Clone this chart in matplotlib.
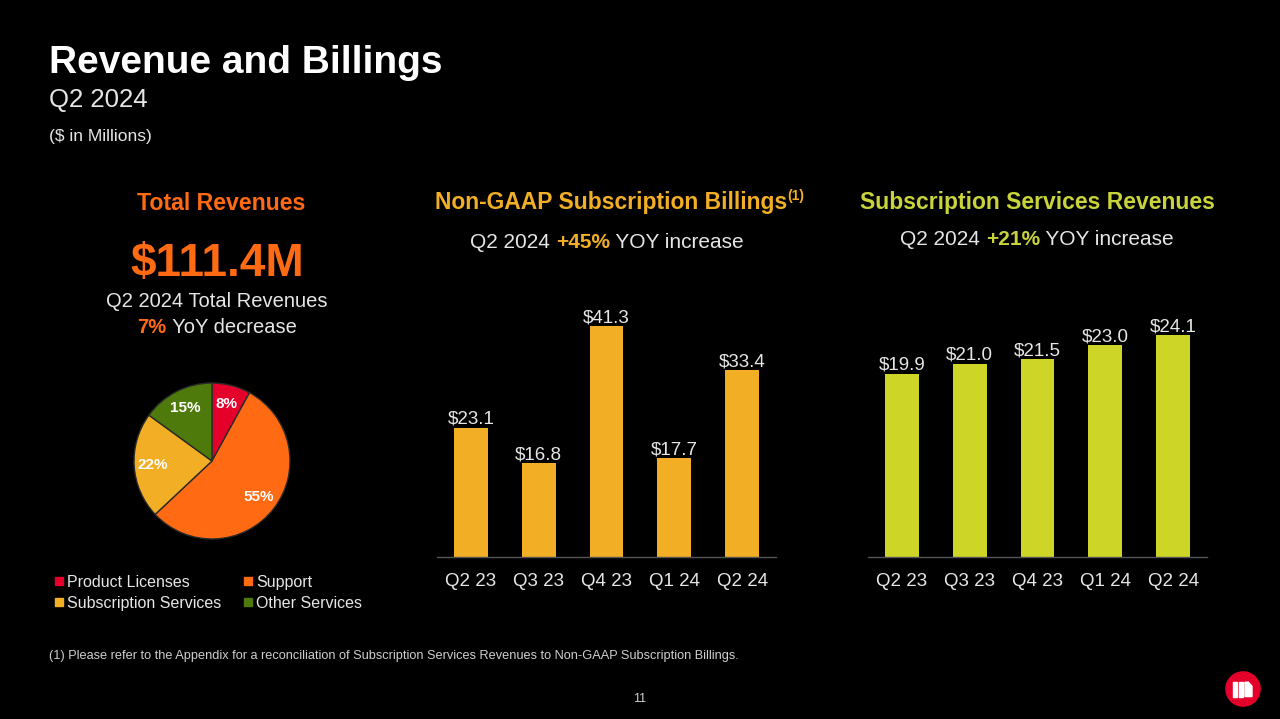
import matplotlib
matplotlib.use("Agg")
import matplotlib.pyplot as plt
from matplotlib.patches import Circle, Rectangle, Polygon

plt.rcParams['font.family'] = ['Liberation Sans', 'DejaVu Sans']

# pie: revenue mix, Q2 2024
pie_labels = ["Product Licenses", "Support", "Subscription Services", "Other Services"]
pie_shares = [8, 55, 22, 15]
pie_colors = ["#E4002B", "#FF6A13", "#F2AE24", "#4E7A0C"]

# bar charts
quarters = ["Q2 23", "Q3 23", "Q4 23", "Q1 24", "Q2 24"]
billings = [23.1, 16.8, 41.3, 17.7, 33.4]
sub_revenues = [19.9, 21.0, 21.5, 23.0, 24.1]

ORANGE = "#FF6A13"
YELLOW = "#F2AE24"
LIME = "#CDD627"
LIGHT = "#E6E6E6"

W, H = 1280, 719
fig = plt.figure(figsize=(12.8, 7.19), dpi=100, facecolor="black")


def fx(px):
    return px / W


def fy(py):
    return 1 - py / H


def rich_line(x, y, parts):
    # parts: (text, color, size, weight, dy_px) -> drawn side by side, centred on x
    renderer = fig.canvas.get_renderer()
    texts = []
    for s, c, size, w, dy in parts:
        t = fig.text(0, fy(y + dy), s, color=c, fontsize=size, fontweight=w,
                     va='center', ha='left')
        texts.append(t)
    widths = [t.get_window_extent(renderer).width for t in texts]
    x0 = x - sum(widths) / 2
    for t, w in zip(texts, widths):
        t.set_x(fx(x0))
        x0 += w


# header
fig.text(fx(49), fy(63), "Revenue and Billings", color="white", fontsize=28,
         fontweight="bold", va="center")
fig.text(fx(49), fy(100), "Q2 2024", color=LIGHT, fontsize=18.5, va="center")
fig.text(fx(49), fy(136), "($ in Millions)", color=LIGHT, fontsize=12.5, va="center")

# left panel: total revenues
fig.text(fx(221), fy(203), "Total Revenues", color=ORANGE, fontsize=16.7,
         fontweight="bold", ha="center", va="center")
fig.text(fx(217), fy(264), "$111.4M", color=ORANGE, fontsize=33,
         fontweight="bold", ha="center", va="center")
fig.text(fx(217), fy(302), "Q2 2024 Total Revenues", color=LIGHT, fontsize=14.5,
         ha="center", va="center")
rich_line(217, 328, [("7%", ORANGE, 14.5, "bold", 0),
                     (" YoY decrease", LIGHT, 14.5, "normal", 0)])

R = 78
ax_pie = fig.add_axes([fx(212 - R), fy(461 + R), fx(2 * R), 2 * R / H])
wedges, _, autotexts = ax_pie.pie(
    pie_shares, colors=pie_colors, startangle=90, counterclock=False,
    autopct="%d%%", pctdistance=0.76,
    wedgeprops=dict(edgecolor="#2a2a2a", linewidth=1),
    textprops=dict(color="white", fontsize=11, fontweight="bold"))
ax_pie.set_xlim(-1, 1)
ax_pie.set_ylim(-1, 1)
ax_pie.set_aspect("equal")
ax_pie.axis("off")

legend_pos = [(59, 581), (248, 581), (59, 602), (248, 602)]
for (lx, ly), lab, col in zip(legend_pos, pie_labels, pie_colors):
    fig.patches.append(Rectangle((fx(lx - 4), fy(ly + 4)), fx(8), 8 / H,
                                 transform=fig.transFigure, color=col))
    fig.text(fx(lx + 8), fy(ly + 6), lab, color=LIGHT, fontsize=11.5, va="baseline")


def bar_panel(left, right, ppu, ymax, values, color):
    ax = fig.add_axes([fx(left), fy(557), fx(right - left), ymax * ppu / H])
    ax.set_facecolor("none")
    x = list(range(len(values)))
    ax.bar(x, values, width=0.5, color=color)
    for i, v in zip(x, values):
        ax.annotate(f"${v:.1f}", (i, v), xytext=(0, 0), textcoords="offset points",
                    ha="center", va="bottom", color=LIGHT, fontsize=13.5)
    ax.set_xlim(-0.5, len(values) - 0.5)
    ax.set_ylim(0, ymax)
    ax.set_xticks(x, quarters)
    ax.set_yticks([])
    ax.tick_params(axis="x", length=0, pad=11.5, labelsize=13.5, labelcolor=LIGHT)
    for side in ["top", "left", "right"]:
        ax.spines[side].set_visible(False)
    ax.spines["bottom"].set_color("#555555")
    ax.spines["bottom"].set_linewidth(1)
    return ax


# middle panel: billings
rich_line(620, 202, [("Non-GAAP Subscription Billings", YELLOW, 16.5, "bold", 0),
                     ("(1)", YELLOW, 10, "bold", -6)])
rich_line(607, 242, [("Q2 2024 ", LIGHT, 15, "normal", 0),
                     ("+45%", YELLOW, 15, "bold", 0),
                     (" YOY increase", LIGHT, 15, "normal", 0)])
bar_panel(437, 776, 5.59, 45, billings, YELLOW)

# right panel: subscription services revenues
fig.text(fx(1037), fy(202), "Subscription Services Revenues", color="#C9D33A",
         fontsize=16.5, fontweight="bold", ha="center", va="center")
rich_line(1037, 239, [("Q2 2024 ", LIGHT, 15, "normal", 0),
                      ("+21%", "#C9D33A", 15, "bold", 0),
                      (" YOY increase", LIGHT, 15, "normal", 0)])
bar_panel(868, 1207, 9.2, 30, sub_revenues, LIME)

# footnote and page number
fig.text(fx(49), fy(656), "(1) Please refer to the Appendix for a reconciliation of "
         "Subscription Services Revenues to Non-GAAP Subscription Billings.",
         color="#CFCFCF", fontsize=9.2, va="center")
fig.text(fx(640), fy(699), "11", color="#CFCFCF", fontsize=9, ha="center", va="center")

# logo
ax_logo = fig.add_axes([fx(1243 - 18), fy(689 + 18), fx(36), 36 / H])
ax_logo.set_xlim(-1, 1)
ax_logo.set_ylim(-1, 1)
ax_logo.set_aspect("equal")
ax_logo.axis("off")
ax_logo.add_patch(Circle((0, 0), 0.95, color="#E4002B"))
ax_logo.add_patch(Rectangle((-0.55, -0.42), 0.2, 0.8, color="white"))
ax_logo.add_patch(Rectangle((-0.22, -0.42), 0.2, 0.8, color="white"))
ax_logo.add_patch(Polygon([(0.11, -0.42), (0.5, -0.42), (0.5, 0.15), (0.3, 0.38),
                           (0.11, 0.38)], color="white"))

fig.savefig("out.png", dpi=100, facecolor="black")
